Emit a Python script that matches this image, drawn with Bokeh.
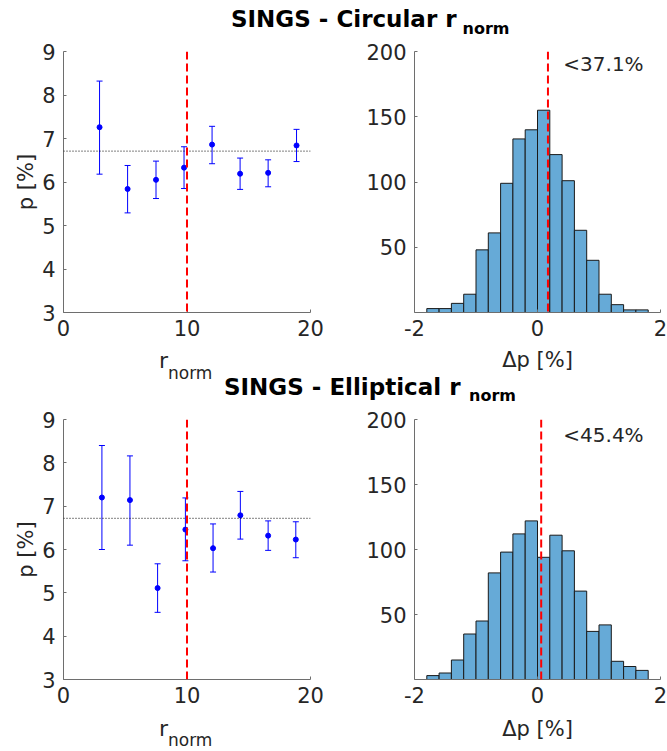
import math
from bokeh.plotting import figure
from bokeh.models import Range1d, FixedTicker, Whisker, TeeHead, ColumnDataSource, Label, Span
from bokeh.layouts import column, row
from bokeh.embed import file_html
from bokeh.resources import INLINE
from bokeh.core.properties import value

# ---------------- data ----------------
circ_r = [2.92, 5.19, 7.49, 9.76, 12.03, 14.30, 16.57, 18.87]
circ_p = [7.26, 5.84, 6.05, 6.33, 6.86, 6.19, 6.21, 6.84]
circ_hi = [8.32, 6.38, 6.48, 6.81, 7.28, 6.55, 6.51, 7.21]
circ_lo = [6.18, 5.29, 5.62, 5.85, 6.42, 5.83, 5.89, 6.47]
circ_mean = 6.71

ell_r = [3.11, 5.38, 7.62, 9.87, 12.11, 14.32, 16.57, 18.81]
ell_p = [7.20, 7.14, 5.11, 6.46, 6.03, 6.79, 6.32, 6.23]
ell_hi = [8.40, 8.16, 5.67, 7.19, 6.59, 7.34, 6.66, 6.64]
ell_lo = [6.00, 6.10, 4.55, 5.74, 5.48, 6.24, 5.98, 5.81]
ell_mean = 6.72

r_cut = 10

bin_edges = [-1.8, -1.6, -1.4, -1.2, -1.0, -0.8, -0.6, -0.4, -0.2, 0.0,
             0.2, 0.4, 0.6, 0.8, 1.0, 1.2, 1.4, 1.6, 1.8]
circ_counts = [3, 3, 7, 14, 48, 61, 99, 133, 140, 155, 121, 101, 63, 40, 14, 6, 2, 2]
ell_counts = [3, 5, 15, 35, 45, 82, 98, 112, 122, 94, 111, 99, 68, 37, 42, 14, 10, 7]
circ_dp = 0.17
ell_dp = 0.06
circ_pct = "<37.1%"
ell_pct = "<45.4%"

title_main = ["SINGS - Circular r", "SINGS - Elliptical r"]
title_sub = "norm"
xlabel_main = "r"
xlabel_sub = "norm"
ylabel_left = "p [%]"
xlabel_right = "\u0394p [%]"

# ---------------- style ----------------
FONT = "DejaVu Sans"
AX = "#6e6e6e"
TXT = "#262626"
BLUE = "#0000ff"
HIST = "#66aad7"
TICK_SIZE = "21px"


def style_axes(f, xticks, yticks):
    f.xgrid.visible = False
    f.ygrid.visible = False
    f.outline_line_color = None
    f.background_fill_color = "white"
    f.xaxis.ticker = FixedTicker(ticks=xticks)
    f.yaxis.ticker = FixedTicker(ticks=yticks)
    f.xaxis.major_label_overrides = {t: "%d" % t for t in xticks}
    for ax in (f.xaxis[0], f.yaxis[0]):
        ax.axis_line_color = AX
        ax.axis_line_width = 1
        ax.major_tick_line_color = AX
        ax.major_tick_in = 3
        ax.major_tick_out = 0
        ax.minor_tick_line_color = None
        ax.major_label_text_font = FONT
        ax.major_label_text_font_size = TICK_SIZE
        ax.major_label_text_color = TXT
    f.xaxis.major_label_standoff = 7
    f.yaxis.major_label_standoff = 8


def scatter_panel(r, p, lo, hi, mean, top, fh, bottom):
    f = figure(width=333, height=top + fh + bottom, x_range=Range1d(0, 20), y_range=Range1d(3, 9),
               min_border_left=63, min_border_right=23, min_border_top=top, min_border_bottom=bottom,
               output_backend="svg", toolbar_location=None)
    style_axes(f, [0, 10, 20], [3, 4, 5, 6, 7, 8, 9])
    f.yaxis.axis_label = ylabel_left
    f.yaxis.axis_label_text_font = FONT
    f.yaxis.axis_label_text_font_size = "21px"
    f.yaxis.axis_label_text_font_style = "normal"
    f.yaxis.axis_label_text_color = TXT
    f.yaxis.axis_label_standoff = 1
    src = ColumnDataSource(dict(r=r, p=p, lo=lo, hi=hi))
    f.add_layout(Span(location=mean, dimension="width", line_color="#000000", line_dash="1 2", line_width=1))
    f.add_layout(Whisker(base="r", upper="hi", lower="lo", source=src, dimension="height",
                         line_color=BLUE, line_width=1,
                         upper_head=TeeHead(size=6, line_color=BLUE, line_width=1),
                         lower_head=TeeHead(size=6, line_color=BLUE, line_width=1)))
    f.scatter("r", "p", source=src, size=5, color=BLUE)
    f.add_layout(Span(location=r_cut, dimension="height", line_color="#ff0000", line_dash="8 4", line_width=2))
    return f


def hist_panel(counts, dp, pct, pct_y, top, fh, bottom):
    f = figure(width=334, height=top + fh + bottom, x_range=Range1d(-2, 2), y_range=Range1d(0, 200),
               min_border_left=81, min_border_right=7, min_border_top=top, min_border_bottom=bottom,
               output_backend="svg", toolbar_location=None)
    style_axes(f, [-2, 0, 2], [50, 100, 150, 200])
    f.quad(left=bin_edges[:-1], right=bin_edges[1:], top=counts, bottom=0,
           fill_color=HIST, line_color="#1a1a1a", line_width=1)
    f.add_layout(Span(location=dp, dimension="height", line_color="#ff0000", line_dash="8 4", line_width=2))
    f.add_layout(Label(x=0.42, y=pct_y, text=pct, text_font=FONT, text_font_size="20px",
                       text_color=TXT, text_baseline="alphabetic"))
    return f


def text_fig(h):
    f = figure(width=667, height=h, x_range=Range1d(0, 667), y_range=Range1d(h, 0),
               min_border=0, x_axis_location=None, y_axis_location=None,
               output_backend="svg", toolbar_location=None)
    f.xgrid.visible = False
    f.ygrid.visible = False
    f.outline_line_color = None
    return f


def put(f, x, y, s, size, bold=False, align="left"):
    f.text(x=[x], y=[y], text=[s], text_font=value(FONT),
           text_font_style="bold" if bold else "normal", text_font_size=size,
           text_color="black" if bold else TXT, text_baseline="alphabetic", text_align=align)


def add_title(f, idx, x_main, y_main, x_sub, y_sub):
    put(f, x_main, y_main, title_main[idx], "23px", bold=True)
    put(f, x_sub, y_sub, title_sub, "16px", bold=True)


def add_xlabels(f, y_r, y_sub, y_dp):
    put(f, 158.5, y_r, xlabel_main, "22px")
    put(f, 167.5, y_sub, xlabel_sub, "17px")
    put(f, 537, y_dp, xlabel_right, "21px", align="center")


# title 1 : 0 - 38
t1 = text_fig(38)
add_title(t1, 0, 230.5, 18, 462, 27.5)

# top row : 38 - 345 (frame 51 - 312)
tl = scatter_panel(circ_r, circ_p, circ_lo, circ_hi, circ_mean, 13, 261, 33)
tr = hist_panel(circ_counts, circ_dp, circ_pct, 190.3, 13, 261, 33)

# middle text band : 345 - 406
mid = text_fig(61)
add_xlabels(mid, 14.7, 27.5, 14)
add_title(mid, 1, 223.5, 41, 468.5, 50)

# bottom row : 406 - 712 (frame 419 - 679)
bl = scatter_panel(ell_r, ell_p, ell_lo, ell_hi, ell_mean, 13, 260, 33)
br = hist_panel(ell_counts, ell_dp, ell_pct, 187.7, 13, 260, 33)

# bottom text band : 712 - 751
bot = text_fig(39)
add_xlabels(bot, 16, 27.5, 16)

layout = column(t1, row(tl, tr), mid, row(bl, br), bot)

with open("out.html", "w") as fh:
    fh.write(file_html(layout, INLINE))
